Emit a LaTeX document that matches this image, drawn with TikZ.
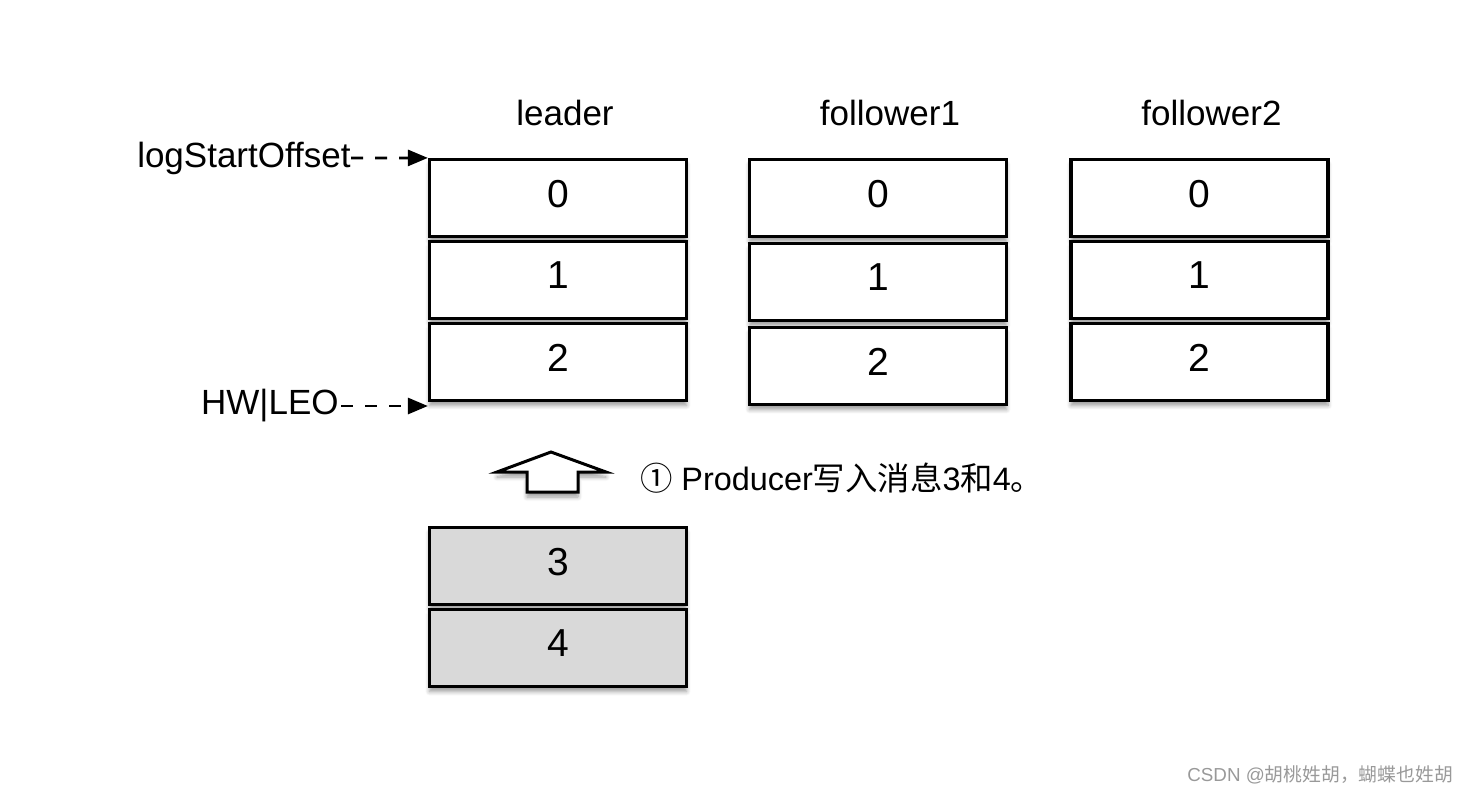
\documentclass[tikz,border=0pt]{standalone}
\usepackage{fontspec}
\setmainfont{Liberation Sans}
\newfontfamily\cjk{Noto Sans CJK SC}
\usepackage{tikz}
\usetikzlibrary{positioning,arrows.meta,shadows.blur}

\begin{document}
\begin{tikzpicture}[x=0.5pt,y=-0.5pt,
    every node/.style={on grid,node distance=41pt},
    cell/.style={draw,line width=1.6pt,minimum width=128.5pt,minimum height=38.5pt,inner sep=0pt,fill=white,
      text depth=4.5pt,font=\fontsize{19.5}{20}\selectfont,
      blur shadow={shadow xshift=0pt,shadow yshift=-2.5pt,shadow blur steps=6,shadow opacity=40}},
    newmsg/.style={cell,fill=black!15},
    head/.style={font=\fontsize{17.5}{18}\selectfont},
    ptr/.style={dashed,dash pattern=on 6pt off 6pt,line width=1.4pt,-{Triangle[length=10pt,width=8pt]}}]
    \useasboundingbox (0,0) rectangle (1472,794);
    \node[cell] (L0) at (558,198) {0};
    \node[cell,below=of L0] (L1) {1};
    \node[cell,below=of L1] (L2) {2};
    \node[cell] (Fa0) at (878,198) {0};
    \node[cell,below=42pt of Fa0] (Fa1) {1};
    \node[cell,below=42pt of Fa1] (Fa2) {2};
    \node[cell] (Fb0) at (1199.5,198) {0};
    \node[cell,below=of Fb0] (Fb1) {1};
    \node[cell,below=of Fb1] (Fb2) {2};
    \node[head,above=42.5pt of L0,xshift=3.5pt] (leader) {leader};
    \node[head,above=42.5pt of Fa0,xshift=6pt] (fol1) {follower1};
    \node[head,above=42.5pt of Fb0,xshift=6pt] (fol2) {follower2};
    \node[head,anchor=east,inner sep=0pt] (lso) at (351,158) {logStartOffset};
    \node[head,anchor=east,inner sep=0pt] (hw) at (339,406) {HW|LEO};
    \draw[ptr] (lso.east) -- (L0.north west);
    \draw[ptr] ([xshift=1pt]hw.east) -- (hw.east -| L2.west);
    \draw[line width=1.5pt,fill=white,
      blur shadow={shadow xshift=0pt,shadow yshift=-2.5pt,shadow blur steps=6,shadow opacity=40}]
      (551,452) -- (606,472) -- (578,472) -- (578,492) -- (527,492) -- (527,472) -- (497,472) -- cycle;
    \node[anchor=west,font=\fontsize{16.2}{17}\selectfont] (step1) at (633,478)
      {{\cjk ①} Producer{\cjk 写入消息}3{\cjk 和}4{\cjk 。}};
    \node[newmsg] (L3) at (558,566) {3};
    \node[newmsg,below=of L3] (L4) {4};
    \node[anchor=east,text=black!40,font=\fontsize{9.4}{10}\selectfont] (mark) at (1460,775)
      {CSDN @{\cjk 胡桃姓胡，蝴蝶也姓胡}};
  \end{tikzpicture}
\end{document}
